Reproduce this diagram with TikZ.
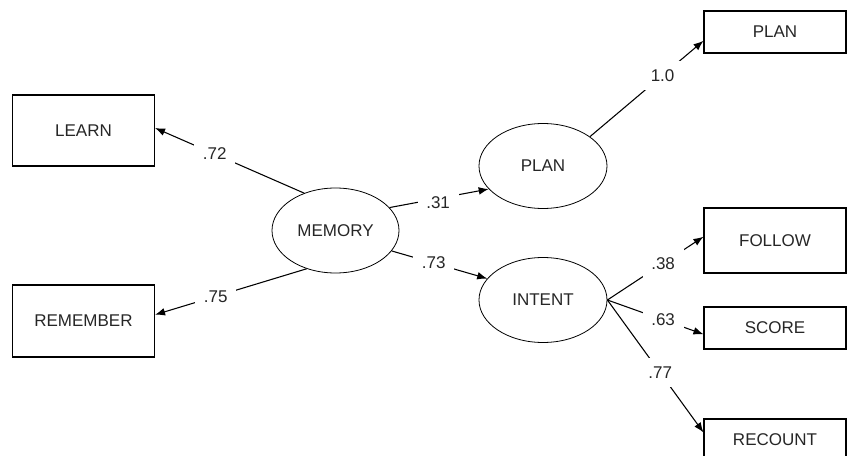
\documentclass[tikz,border=0pt]{standalone}
\usepackage{fontspec}
\setmainfont{Liberation Sans}
\usetikzlibrary{arrows.meta, shapes.geometric}

\begin{document}
\begin{tikzpicture}[x=0.75pt, y=-0.75pt,
    >={Latex[length=7.5pt,width=5.8pt]},
    every node/.style={font=\fontsize{12.75}{15}\selectfont, text=black!85},
    box/.style={draw, line width=0.8pt, minimum width=106.5pt, inner sep=0pt},
    latent/.style={draw, ellipse, line width=0.6pt, minimum width=96pt, minimum height=63.75pt, inner sep=0pt},
    coef/.style={fill=white, inner sep=6.5pt},
    link/.style={line width=0.8pt, ->}]
    \useasboundingbox (0,0) rectangle (847,456);
    % latent variables
    \node[latent, minimum width=95.25pt] (memory) at (335.5,230.5) {MEMORY};
    \node[latent] (plan) at (543,166) {PLAN};
    \node[latent] (intent) at (543,300) {INTENT};
    %
    \node[box, minimum height=53.25pt] (learn) at (83.5,130.5) {LEARN};
    \node[box, minimum height=54pt] (remember) at (83.5,321) {REMEMBER};
    \foreach \nm / \txt / \y / \hgt in {planbox/PLAN/32/31.5pt, follow/FOLLOW/240.5/48.75pt, score/SCORE/328/31.5pt, recount/RECOUNT/440/31.5pt}
    \node[box, minimum height=\hgt] (\nm) at (775,\y) {\txt};
    % paths
    \draw[link] (memory.130) -- (learn.2) node[coef, pos=0.6]{.72};
    \draw[link] (memory.233) -- (remember.5) node[coef, pos=0.6]{.75};
    \draw[link] (memory.23) -- (plan.203) node[coef, pos=0.49, yshift=-3pt]{.31};
    \draw[link] (memory.340) -- (intent.159) node[coef, pos=0.44]{.73};
    \draw[link] (plan.32) -- (planbox.187) node[coef, pos=0.64]{1.0};
    %
    \foreach \tgt / \ang / \val / \p in {follow/177/.38/0.58, score/185/.63/0.58, recount/174/.77/0.55}
    \draw[link] (intent.east) -- (\tgt.\ang) node[coef, pos=\p]{\val};
\end{tikzpicture}
\end{document}
